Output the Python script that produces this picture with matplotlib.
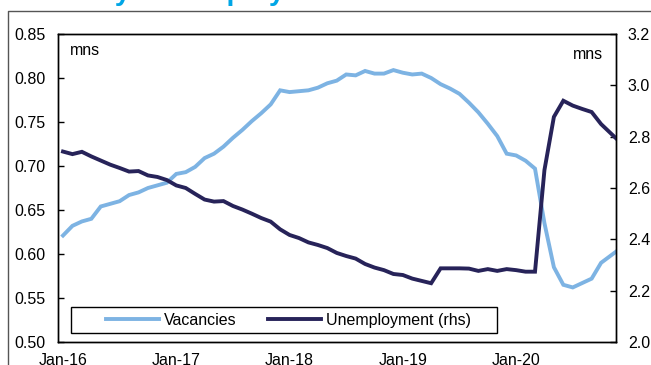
import matplotlib.pyplot as plt
from matplotlib.lines import Line2D
from matplotlib.patches import Rectangle

# Datos mensuales, ene-16 a dic-20 (el ultimo mes queda cortado por el eje)
months = list(range(60))
vacancies = [0.621, 0.632, 0.637, 0.640, 0.654, 0.657, 0.660, 0.667, 0.670, 0.675,
             0.678, 0.681, 0.691, 0.693, 0.699, 0.709, 0.714, 0.722, 0.732, 0.741,
             0.751, 0.760, 0.770, 0.786, 0.784, 0.785, 0.786, 0.789, 0.794, 0.797,
             0.804, 0.803, 0.808, 0.805, 0.805, 0.809, 0.806, 0.804, 0.805, 0.800,
             0.793, 0.788, 0.782, 0.772, 0.761, 0.748, 0.734, 0.714, 0.712, 0.706,
             0.697, 0.635, 0.585, 0.565, 0.562, 0.567, 0.572, 0.590, 0.598, 0.606]
unemployment = [2.742, 2.732, 2.741, 2.723, 2.707, 2.691, 2.678, 2.664, 2.666, 2.649,
                2.643, 2.631, 2.610, 2.600, 2.577, 2.555, 2.547, 2.549, 2.530, 2.516,
                2.500, 2.483, 2.469, 2.439, 2.417, 2.405, 2.388, 2.378, 2.366, 2.347,
                2.335, 2.325, 2.304, 2.290, 2.280, 2.265, 2.261, 2.247, 2.238, 2.229,
                2.287, 2.287, 2.287, 2.286, 2.277, 2.284, 2.277, 2.284, 2.280, 2.274,
                2.274, 2.670, 2.877, 2.940, 2.921, 2.908, 2.896, 2.849, 2.814, 2.779]
tick_pos = [0, 12, 24, 36, 48]
tick_labels = ["Jan-16", "Jan-17", "Jan-18", "Jan-19", "Jan-20"]
left_ticks = [0.50, 0.55, 0.60, 0.65, 0.70, 0.75, 0.80, 0.85]
right_ticks = [2.0, 2.2, 2.4, 2.6, 2.8, 3.0, 3.2]

plt.rcParams['font.family'] = ['Liberation Sans', 'DejaVu Sans']

W, H = 651, 365
fs = 11.5
fig = plt.figure(figsize=(W / 100, H / 100), dpi=100)
ax = fig.add_axes([58 / W, 23 / H, 558 / W, 308 / H])
ax2 = ax.twinx()

c_vac = "#7db3e3"
c_unemp = "#272359"

ax.plot(months, vacancies, color=c_vac, lw=2.8, solid_joinstyle="miter")
ax2.plot(months, unemployment, color=c_unemp, lw=2.8, solid_joinstyle="miter")

ax.set_xlim(-0.53, 58.58)
ax.set_ylim(0.50, 0.85)
ax2.set_ylim(2.0, 3.2)

ax.set_yticks(left_ticks)
ax.set_yticklabels(["%.2f" % v for v in left_ticks])
ax2.set_yticks(right_ticks)
ax2.set_yticklabels(["%.1f" % v for v in right_ticks])
ax.set_xticks(tick_pos)
ax.set_xticklabels(tick_labels)

ax.tick_params(axis="y", direction="in", length=4, width=1, labelsize=fs, pad=9.0)
ax2.tick_params(axis="y", direction="in", length=4, width=1, labelsize=fs, pad=8.6)
ax.tick_params(axis="x", length=0, labelsize=fs, pad=8.2)

for a in (ax, ax2):
    for s in a.spines.values():
        s.set_linewidth(1)
        s.set_color("black")

ax.text(0.022, 0.945, "mns", transform=ax.transAxes, fontsize=fs, va="center")
ax2.text(0.977, 0.935, "mns", transform=ax.transAxes, fontsize=fs, va="center", ha="right")

# Leyenda con caja propia
ax2.add_patch(Rectangle((0.0228, 0.0292), 0.7634, 0.0844, transform=ax2.transAxes,
                        facecolor="white", edgecolor="black", lw=1, zorder=4))
handles = [Line2D([], [], color=c_vac, lw=2.8), Line2D([], [], color=c_unemp, lw=2.8)]
leg = ax2.legend(handles, ["Vacancies", "Unemployment (rhs)"], ncol=2, frameon=False,
                 loc="center", bbox_to_anchor=(0.413, 0.0714), fontsize=fs,
                 handlelength=3.3, handletextpad=0.31, columnspacing=2.0)
leg.set_zorder(5)

# Marco exterior y titulo cortado arriba
fig.add_artist(Line2D([8 / W, 8 / W, 1.0], [0, 1 - 11 / H, 1 - 11 / H],
                      transform=fig.transFigure, color="#555555", lw=1))
fig.text(8 / W, 1 + 0.5 / H, "Germany: Unemployment and vacancies", fontsize=20.3,
         fontweight="bold", color="#00a6e6", va="baseline", ha="left")

fig.savefig("out.png", dpi=100)
